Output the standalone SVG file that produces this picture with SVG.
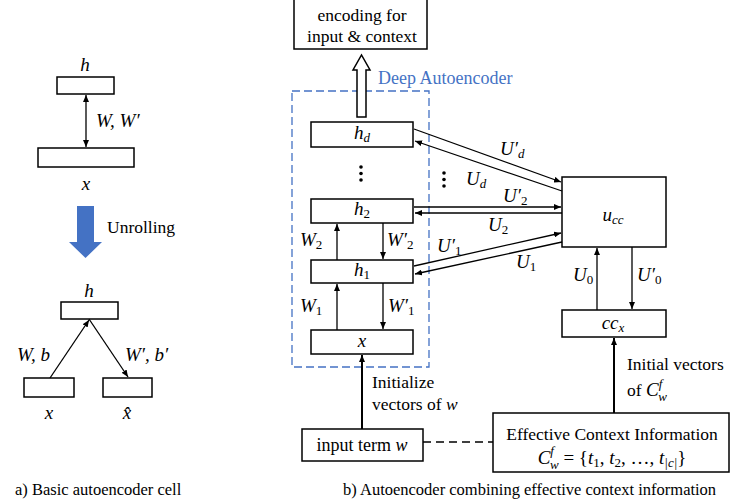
<svg xmlns="http://www.w3.org/2000/svg" width="730" height="503" viewBox="0 0 730 503">
  <style>
    .box { fill: #fff; stroke: #000; stroke-width: 1.5; }
    .ln { fill: none; stroke: #000; stroke-width: 1.3; }
    .thk { fill: none; stroke: #000; stroke-width: 2; }
    .txt { font-family: 'Liberation Serif', 'DejaVu Serif', serif; font-size: 17.5px; fill: #000; }
    .cap { font-family: 'Liberation Serif', 'DejaVu Serif', serif; font-size: 16.5px; fill: #000; }
    .m { font-family: 'Liberation Serif', 'DejaVu Serif', serif; font-style: italic; font-size: 19px; fill: #000; }
    .sub { font-size: 13px; }
    .up { font-style: normal; }
    .blue { fill: #4472C4; }
  </style>
  <defs>
    <marker id="ah" markerUnits="userSpaceOnUse" markerWidth="8" markerHeight="6" refX="7" refY="3" orient="auto">
      <path d="M0,0 L7,3 L0,6 z" fill="#000"/>
    </marker>
    <marker id="ahs" markerUnits="userSpaceOnUse" markerWidth="8" markerHeight="6" refX="1" refY="3" orient="auto">
      <path d="M8,0 L1,3 L8,6 z" fill="#000"/>
    </marker>
  </defs>

  <!-- a) single cell -->
  <g id="cell-h">
    <rect class="box" x="57" y="77" width="57" height="17"/>
    <text class="m" x="85" y="71" text-anchor="middle">h</text>
  </g>
  <g id="cell-x">
    <rect class="box" x="38" y="148" width="96" height="19"/>
    <text class="m" x="86" y="190" text-anchor="middle">x</text>
  </g>
  <g id="unroll">
    <polygon class="blue" points="77,206 94,206 94,242 102,242 85.5,258 69,242 77,242"/>
    <text class="txt" x="107" y="233">Unrolling</text>
  </g>
  <g id="unrolled-h">
    <rect class="box" x="61" y="302" width="57" height="17"/>
    <text class="m" x="89" y="297" text-anchor="middle">h</text>
  </g>
  <g id="unrolled-x">
    <rect class="box" x="24" y="378" width="50" height="19"/>
    <text class="m" x="49" y="419" text-anchor="middle">x</text>
  </g>
  <g id="unrolled-xhat">
    <rect class="box" x="103" y="378" width="49" height="19"/>
    <text class="m" x="127" y="419" text-anchor="middle">x&#x302;</text>
  </g>
  <text class="cap" x="15" y="495">a) Basic autoencoder cell</text>

  <!-- b) deep autoencoder with context -->
  <g id="encoding">
    <rect class="box" x="294" y="-1" width="133" height="50"/>
    <text class="txt" x="362" y="21" text-anchor="middle">encoding for</text>
    <text class="txt" x="362" y="42" text-anchor="middle">input &amp; context</text>
  </g>
  <g id="deep-ae">
    <rect x="292" y="91" width="137" height="276" fill="none" stroke="#4472C4" stroke-width="1.3" stroke-dasharray="8,4"/>
    <text class="txt" x="378" y="84" style="fill:#4472C4;font-size:18px">Deep Autoencoder</text>
  </g>
  <g id="hd">
    <rect class="box" x="311" y="122" width="102" height="25"/>
    <text class="m" x="362" y="139" text-anchor="middle">h<tspan class="sub" dy="3">d</tspan></text>
  </g>
  <g id="h2">
    <rect class="box" x="311" y="199" width="102" height="24"/>
    <text class="m" x="362" y="215" text-anchor="middle">h<tspan class="sub up" dy="3">2</tspan></text>
  </g>
  <g id="h1">
    <rect class="box" x="311" y="260" width="102" height="23"/>
    <text class="m" x="362" y="276" text-anchor="middle">h<tspan class="sub up" dy="3">1</tspan></text>
  </g>
  <g id="x">
    <rect class="box" x="311" y="330" width="102" height="24"/>
    <text class="m" x="362" y="347" text-anchor="middle">x</text>
  </g>
  <g id="input-term">
    <rect class="box" x="302" y="429" width="121" height="32"/>
    <text class="txt" x="362" y="451" text-anchor="middle" style="font-size:18px">input term <tspan font-style="italic">w</tspan></text>
  </g>
  <g id="ucc">
    <rect class="box" x="562" y="177" width="104" height="70"/>
    <text class="m" x="613" y="221" text-anchor="middle">u<tspan class="sub" dy="3">cc</tspan></text>
  </g>
  <g id="ccx">
    <rect class="box" x="562" y="310" width="104" height="27"/>
    <text class="m" x="613" y="329" text-anchor="middle">cc<tspan class="sub" dy="3">x</tspan></text>
  </g>
  <g id="context-info">
    <rect class="box" x="493" y="413" width="236" height="59"/>
    <text class="txt" x="612" y="440" text-anchor="middle">Effective Context Information</text>
    <text class="m" x="612" y="464" text-anchor="middle">C<tspan class="sub" dy="-9">f</tspan><tspan class="sub" dx="-4" dy="14">w</tspan><tspan class="up" dy="-5"> = {</tspan>t<tspan class="sub up" dy="3">1</tspan><tspan class="up" dy="-3">, </tspan>t<tspan class="sub up" dy="3">2</tspan><tspan class="up" dy="-3">, …, </tspan>t<tspan class="sub" dy="3">|c|</tspan><tspan class="up" dy="-3">}</tspan></text>
  </g>
  <text class="cap" x="343" y="495">b) Autoencoder combining effective context information</text>

  <g id="connectors">
    <!-- a) -->
    <line class="ln" x1="86" y1="95" x2="86" y2="147" marker-start="url(#ahs)" marker-end="url(#ah)"/>
    <text class="m" x="96" y="127">W, W′</text>
    <line class="ln" x1="50" y1="378" x2="89" y2="320" stroke-width="0.9" marker-end="url(#ah)"/>
    <line class="ln" x1="89" y1="319" x2="128" y2="377" stroke-width="0.9" marker-end="url(#ah)"/>
    <text class="m" x="17" y="361">W, b</text>
    <text class="m" x="125" y="361">W′, b′</text>

    <!-- encoding output -->
    <polygon points="357,117 357,70 353,70 361.5,55 370,70 366,70 366,117" fill="#fff" stroke="#000" stroke-width="1.5"/>

    <!-- stack dots -->
    <circle cx="361" cy="167" r="1.8"/>
    <circle cx="361" cy="173.5" r="1.8"/>
    <circle cx="361" cy="180" r="1.8"/>
    <circle cx="444" cy="173" r="1.8"/>
    <circle cx="444" cy="179.5" r="1.8"/>
    <circle cx="444" cy="186" r="1.8"/>

    <!-- encoder / decoder weights -->
    <line class="ln" x1="337" y1="260" x2="337" y2="224" marker-end="url(#ah)"/>
    <line class="ln" x1="383" y1="223" x2="383" y2="259" marker-end="url(#ah)"/>
    <line class="ln" x1="337" y1="330" x2="337" y2="284" marker-end="url(#ah)"/>
    <line class="ln" x1="383" y1="283" x2="383" y2="329" marker-end="url(#ah)"/>
    <text class="m" x="300" y="246">W<tspan class="sub up" dy="3">2</tspan></text>
    <text class="m" x="387" y="246">W′<tspan class="sub up" dy="3">2</tspan></text>
    <text class="m" x="300" y="312">W<tspan class="sub up" dy="3">1</tspan></text>
    <text class="m" x="388" y="312">W′<tspan class="sub up" dy="3">1</tspan></text>

    <!-- input initialisation -->
    <line class="thk" x1="362" y1="429" x2="362" y2="355" marker-end="url(#ah)"/>
    <text class="txt" x="372" y="388">Initialize</text>
    <text class="txt" x="372" y="410">vectors of <tspan font-style="italic">w</tspan></text>
    <line x1="423" y1="442" x2="493" y2="442" stroke="#000" stroke-width="1.3" stroke-dasharray="8,5"/>

    <!-- layer to context links -->
    <line class="ln" x1="414" y1="129" x2="561" y2="182" marker-end="url(#ah)"/>
    <line class="ln" x1="562" y1="191" x2="415" y2="141" marker-end="url(#ah)"/>
    <line class="ln" x1="414" y1="207" x2="561" y2="207" marker-end="url(#ah)"/>
    <line class="ln" x1="562" y1="213" x2="415" y2="213" marker-end="url(#ah)"/>
    <line class="ln" x1="414" y1="266" x2="561" y2="233" marker-end="url(#ah)"/>
    <line class="ln" x1="562" y1="242" x2="415" y2="274" marker-end="url(#ah)"/>
    <text class="m" x="500" y="155">U′<tspan class="sub" dy="3">d</tspan></text>
    <text class="m" x="466" y="185">U<tspan class="sub" dy="3">d</tspan></text>
    <text class="m" x="503" y="202">U′<tspan class="sub up" dy="3">2</tspan></text>
    <text class="m" x="488" y="231">U<tspan class="sub up" dy="3">2</tspan></text>
    <text class="m" x="437" y="252">U′<tspan class="sub up" dy="3">1</tspan></text>
    <text class="m" x="516" y="268">U<tspan class="sub up" dy="3">1</tspan></text>

    <!-- context vector links -->
    <line class="ln" x1="597" y1="310" x2="597" y2="248" marker-end="url(#ah)"/>
    <line class="ln" x1="632" y1="247" x2="632" y2="309" marker-end="url(#ah)"/>
    <text class="m" x="573" y="281">U<tspan class="sub up" dy="3">0</tspan></text>
    <text class="m" x="637" y="281">U′<tspan class="sub up" dy="3">0</tspan></text>
    <line class="thk" x1="614" y1="413" x2="614" y2="338" marker-end="url(#ah)"/>
    <text class="txt" x="627" y="370">Initial vectors</text>
    <text class="txt" x="627" y="396">of <tspan class="m">C</tspan><tspan class="m sub" dy="-8">f</tspan><tspan class="m sub" dx="-4" dy="13">w</tspan></text>
  </g>
</svg>
